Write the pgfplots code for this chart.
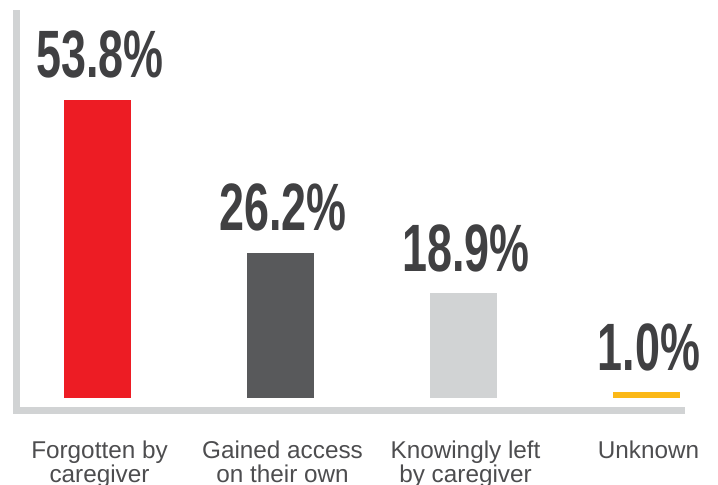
\documentclass[border=0pt]{standalone}
\usepackage{pgfplots}
\pgfplotsset{compat=1.18}
\usepackage{fontspec}
\setmainfont{Liberation Sans}
\usepackage{graphicx}
\definecolor{cred}{HTML}{ED1C24}
\definecolor{cdark}{HTML}{58595B}
\definecolor{clight}{HTML}{D1D3D4}
\definecolor{cyellow}{HTML}{FBB817}
\definecolor{axisgray}{HTML}{D1D3D4}
\definecolor{valgray}{HTML}{404042}
\definecolor{labgray}{HTML}{4D4D4F}
\begin{document}
\begin{tikzpicture}
\begin{axis}[
  scale only axis, width=665bp, height=397bp,
  xmin=-0.4426, xmax=3.191, ymin=-2.26, ymax=69.4,
  axis x line=bottom, axis y line=left,
  axis line style={-, line width=7bp, color=axisgray, line cap=rect},
  ytick=\empty, xtick={0,1,2,3},
  xticklabels={Forgotten by\\caregiver, Gained access\\on their own, Knowingly left\\by caregiver, Unknown},
  major tick length=0pt,
  xticklabel style={align=center, anchor=north, inner sep=0pt, yshift=-30bp, xshift=2bp,
    font=\fontsize{24.3bp}{24bp}\selectfont, text=labgray},
  ybar, bar width=67bp, bar shift=0pt,
  point meta=explicit symbolic,
  nodes near coords={\scalebox{0.67}[1]{\pgfplotspointmeta}},
  every node near coord/.append style={anchor=base, inner sep=0pt, yshift=22bp, xshift=2.5bp,
    font=\fontsize{67bp}{67bp}\selectfont\bfseries, text=valgray},
  clip=false,
]
\addplot[fill=cred, draw=none] coordinates {(0,53.8) [53.8\%]};
\addplot[fill=cdark, draw=none] coordinates {(1,26.2) [26.2\%]};
\addplot[fill=clight, draw=none] coordinates {(2,18.9) [18.9\%]};
\addplot[fill=cyellow, draw=none] coordinates {(3,1.0) [1.0\%]};
\end{axis}
\pgfresetboundingbox
\path ([xshift=-16.5bp,yshift=-74.5bp]current axis.south west) rectangle ([xshift=36.5bp,yshift=13.5bp]current axis.north east);
\end{tikzpicture}
\end{document}
